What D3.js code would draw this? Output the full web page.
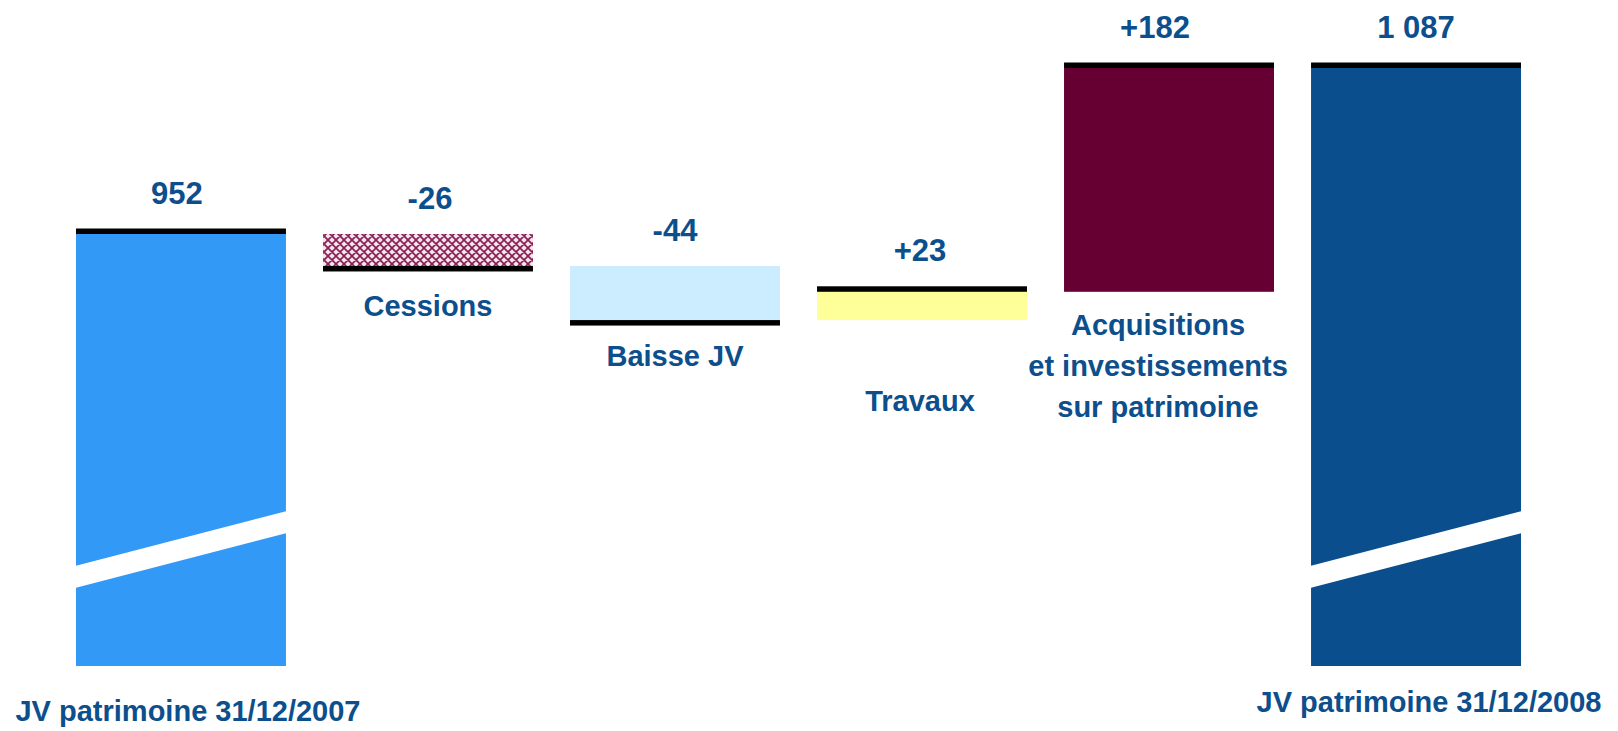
<!DOCTYPE html>
<html>
<head>
<meta charset="utf-8">
<script src="https://cdnjs.cloudflare.com/ajax/libs/d3/7.8.5/d3.min.js"></script>
<style>
  html, body { margin: 0; padding: 0; background: #fff; }
  #chart { width: 1618px; height: 731px; }
  text { font-family: "Liberation Sans", Arial, sans-serif; font-weight: bold; fill: #0c4f8c; }
</style>
</head>
<body>
<div id="chart"></div>
<script>
// waterfall: JV patrimoine 2007 -> 2008 (M€)
const categories = ["JV 2007", "Cessions", "Baisse JV", "Travaux", "Acquisitions", "JV 2008"];
const kinds = ["total", "delta", "delta", "delta", "delta", "total"];
const values = [952, -26, -44, 23, 182, 1087];
const valueLabels = ["952", "-26", "-44", "+23", "+182", "1 087"];
const categoryLabels = [
    ["JV patrimoine 31/12/2007"],
    ["Cessions"],
    ["Baisse JV"],
    ["Travaux"],
    ["Acquisitions", "et investissements", "sur patrimoine"],
    ["JV patrimoine 31/12/2008"]
];

(function () {
    const W = 1618, H = 731;
    const baseY = 666;      // bottom of the broken total bars
    const edge = 5.5;       // black "level" line thickness

    // styles per category (kept apart from the data)
    const fillOf = {
        "JV 2007": "#3399f7",
        "Cessions": "url(#trellis)",
        "Baisse JV": "#ccecff",
        "Travaux": "#ffff99",
        "Acquisitions": "#660033",
        "JV 2008": "#0a4e8e"
    };
    // label nudges (layout only)
    const valueDx = [-4, 2, 0, -2, -14, 0];
    const catDx = [7, 0, 0, -2, -11, 13];
    const catDy = [55, 45, 40, 91, 43, 46];
    const lineGap = 41;

    // running levels
    let level = 0;
    const rows = categories.map((c, i) => {
        let start, end;
        if (kinds[i] === "total") { start = null; end = values[i]; }
        else { start = level; end = level + values[i]; }
        level = end;
        return { cat: c, kind: kinds[i], v: values[i], start, end, i };
    });

    const svg = d3.select("#chart").append("svg")
        .attr("width", W).attr("height", H);

    const defs = svg.append("defs");
    const pat = defs.append("pattern")
        .attr("id", "trellis")
        .attr("patternUnits", "userSpaceOnUse")
        .attr("width", 8).attr("height", 8);
    pat.append("rect").attr("width", 8).attr("height", 8).attr("fill", "#f4e3ec");
    pat.append("path")
        .attr("d", "M0,0L8,8M8,0L0,8M-2,6L2,10M6,-2L10,2M-2,2L2,-2M6,10L10,6")
        .attr("stroke", "#8a1f55").attr("stroke-width", 1.7).attr("fill", "none");

    const x = d3.scaleBand()
        .domain(categories)
        .range([76, 1521])
        .paddingInner(0.15)
        .paddingOuter(0);

    const y = d3.scaleLinear()
        .domain([952, 1087])
        .range([234, 68]);

    const bw = x.bandwidth();

    const g = svg.append("g");

    rows.forEach(d => {
        const x0 = x(d.cat);
        let top, bot, lineY;
        if (d.kind === "total") {
            top = y(d.end); bot = baseY; lineY = top - edge;
        } else {
            top = y(Math.max(d.start, d.end));
            bot = y(Math.min(d.start, d.end));
            lineY = d.v >= 0 ? top - edge : bot;
        }
        d.top = Math.min(top, lineY);
        d.bottom = Math.max(bot, lineY + edge);

        g.append("rect")
            .attr("x", x0).attr("y", top)
            .attr("width", bw).attr("height", bot - top)
            .attr("fill", fillOf[d.cat]);

        g.append("rect")
            .attr("x", x0).attr("y", lineY)
            .attr("width", bw).attr("height", edge)
            .attr("fill", "#000");

        if (d.kind === "total") {
            // axis break: white slanted band across the bar
            const l1 = baseY - 100, r1 = baseY - 155, t = 22;
            g.append("path")
                .attr("d", `M${x0 - 1},${l1}L${x0 + bw + 1},${r1}L${x0 + bw + 1},${r1 + t}L${x0 - 1},${l1 + t}Z`)
                .attr("fill", "#fff");
        }

        const cx = x0 + bw / 2;
        g.append("text")
            .attr("x", cx + valueDx[d.i])
            .attr("y", d.top - 25)
            .attr("text-anchor", "middle")
            .attr("font-size", 31)
            .text(valueLabels[d.i]);

        const t = g.append("text")
            .attr("text-anchor", "middle")
            .attr("font-size", 29);
        categoryLabels[d.i].forEach((s, k) => {
            t.append("tspan")
                .attr("x", cx + catDx[d.i])
                .attr("y", d.bottom + catDy[d.i] + k * lineGap)
                .text(s);
        });
    });
})();
</script>
</body>
</html>
